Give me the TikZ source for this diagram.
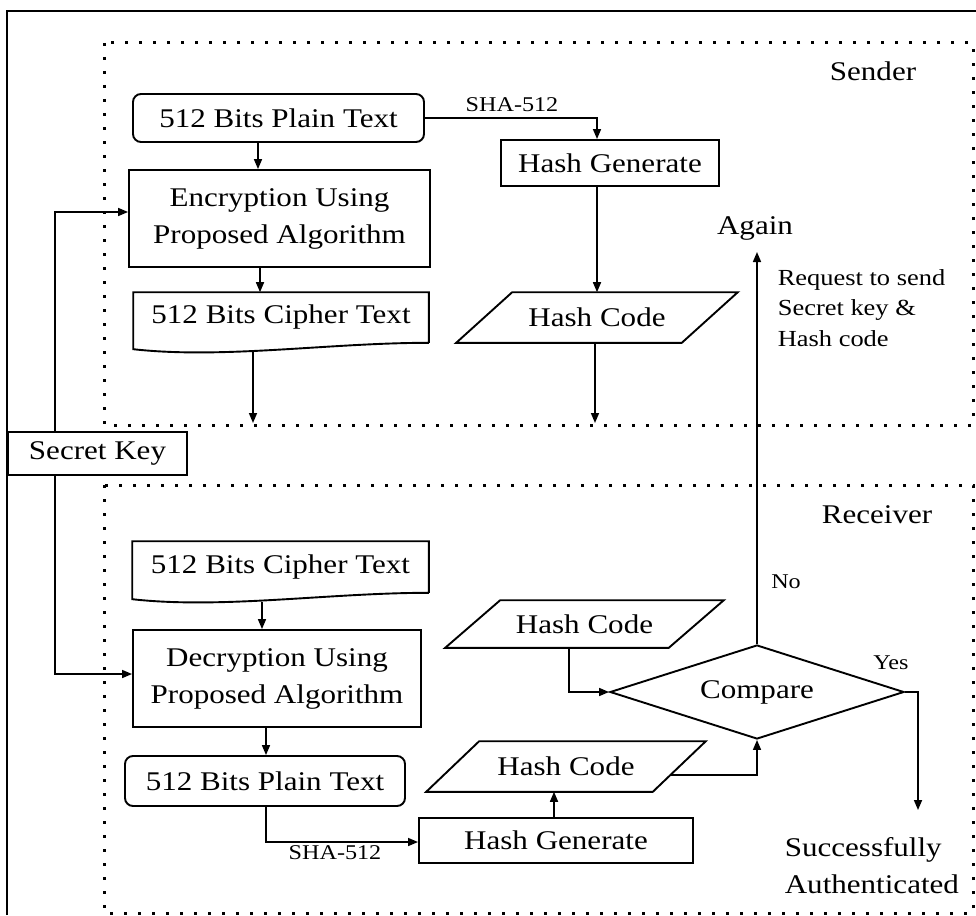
\documentclass[tikz,border=0pt]{standalone}
\usepackage{fontspec}
\setmainfont{Liberation Serif}[FakeStretch=1.15]
\usetikzlibrary{arrows.meta,shapes.geometric,calc}

\begin{document}
\begin{tikzpicture}[x=1pt,y=-1pt,
  line width=1.6pt,
  arr/.style={-{Triangle[length=10pt,width=8pt]}},
  box/.style={draw, line width=1.9pt, inner sep=0pt, align=center, font=\fontsize{27}{37}\selectfont},
  txt/.style={draw=none, inner sep=0pt, align=center, font=\fontsize{27}{37}\selectfont},
  lbl/.style={inner sep=0pt, font=\fontsize{21}{25}\selectfont},
  zone/.style={line width=3pt, dash pattern=on 3pt off 11pt},
  shape edge/.style={line width=1.9pt},
]
\useasboundingbox (0,0) rectangle (976,915);

% outer frame (top and left edges)
\draw[line width=2.7pt] (7,915) -- (7,11) -- (976,11);

% sender and receiver zones
\draw[zone] (104,43) rectangle (973,425);
\draw[zone] (104,485) rectangle (973,913);

\node[txt] (sender) at (873,71) {Sender};
\node[txt] (receiver) at (877,515) {Receiver};

% ---------- sender ----------
\node[box, rounded corners=8pt, minimum width=291, minimum height=48] (ptS) at (278.5,118) {512 Bits Plain Text};
\node[box, minimum width=301, minimum height=97] (encS) at (279.5,218.5) {Encryption Using\\Proposed Algorithm};
\node[txt, minimum width=294, minimum height=49] (ctS) at (281,317.5) {512 Bits Cipher Text};
\draw[shape edge] (ctS.south east) -- (ctS.north east) -- (ctS.north west) -- ++(0,57)
  .. controls +(90,10) and +(-100,0) .. (ctS.south east);

\node[box, minimum width=218, minimum height=46] (hgS) at (610,163) {Hash Generate};
\node[txt, minimum width=280, minimum height=49] (hcS) at (597,317.5) {Hash Code};
\draw[shape edge] (hcS.south west) -- ($(hcS.north west)+(56,0)$) -- (hcS.north east)
  -- ($(hcS.south east)+(-56,0)$) -- cycle;

\node[lbl] (sha1) at (512,105) {SHA-512};

\coordinate (ctSout) at (253,423);
\coordinate (hcSout) at (595,423);

\draw[arr] (258,0 |- ptS.south) -- (258,0 |- encS.north);
\draw[arr] (260,0 |- encS.south) -- (260,0 |- ctS.north);
\draw[arr] ($(ctS.south -| ctSout)+(0,9)$) -- (ctSout);
\draw[arr] (ptS.east) -| (597,0 |- hgS.north);
\draw[arr] (597,0 |- hgS.south) -- (597,0 |- hcS.north);
\draw[arr] (hcSout |- hcS.south) -- (hcSout);

% ---------- secret key ----------
\node[box, minimum width=179, minimum height=43] (key) at (97.5,453.5) {Secret Key};
\draw[arr] (55,0 |- key.north) |- (encS.west |- 0,212);

% ---------- receiver ----------
\node[txt, minimum width=295, minimum height=50] (ctR) at (280.5,567) {512 Bits Cipher Text};
\draw[shape edge] (ctR.south east) -- (ctR.north east) -- (ctR.north west) -- ++(0,58)
  .. controls +(90,10) and +(-100,0) .. (ctR.south east);
\node[box, minimum width=288, minimum height=97] (decR) at (277,678.5) {Decryption Using\\Proposed Algorithm};
\node[box, rounded corners=8pt, minimum width=280, minimum height=50] (ptR) at (265,781) {512 Bits Plain Text};
\node[box, minimum width=274, minimum height=45] (hgR) at (556,840.5) {Hash Generate};

\node[txt, minimum width=277, minimum height=46] (hcA) at (584.5,624) {Hash Code};
\draw[shape edge] (hcA.south west) -- ($(hcA.north west)+(55,0)$) -- (hcA.north east)
  -- ($(hcA.south east)+(-55,0)$) -- cycle;
\node[txt, minimum width=278, minimum height=49] (hcB) at (566,766.5) {Hash Code};
\draw[shape edge] (hcB.south west) -- ($(hcB.north west)+(53,0)$) -- (hcB.north east)
  -- ($(hcB.south east)+(-53,0)$) -- cycle;

\node[diamond, draw, line width=1.9pt, minimum width=294, minimum height=94, inner sep=0pt,
  aspect=3.1, font=\fontsize{27}{37}\selectfont] (cmp) at (757,692) {Compare};

\node[lbl] (sha2) at (335,853) {SHA-512};
\node[lbl] (no) at (786,582) {No};
\node[lbl] (yes) at (891,663) {Yes};
\node[txt] (again) at (755,228) {Again};
\node[txt, align=left, anchor=west, font=\fontsize{23}{30.5}\selectfont] (req) at (777,308)
  {Request to send\\Secret key \&\\Hash code};
\node[txt, align=left, anchor=west] (done) at (784,866) {Successfully\\Authenticated};

\coordinate (againIn) at (757,252);
\coordinate (doneIn) at (918,810);

\draw[arr] (55,0 |- key.south) |- (decR.west |- 0,674);
\draw[arr] ($(ctR.south -| 262,0)+(0,9)$) -- (262,0 |- decR.north);
\draw[arr] (266,0 |- decR.south) -- (266,0 |- ptR.north);
\draw[arr] (266,0 |- ptR.south) |- (hgR.west |- 0,842);
\draw[arr] (554,0 |- hgR.north) -- (554,0 |- hcB.south);
\draw[arr] ($(hcB.east)+(-36,8.5)$) -| (cmp.south);
\draw[arr] (569,0 |- hcA.south) |- (cmp.west);
\draw[arr] (cmp.north) -- (againIn);
\draw[arr] (cmp.east) -| (doneIn);
\end{tikzpicture}
\end{document}
